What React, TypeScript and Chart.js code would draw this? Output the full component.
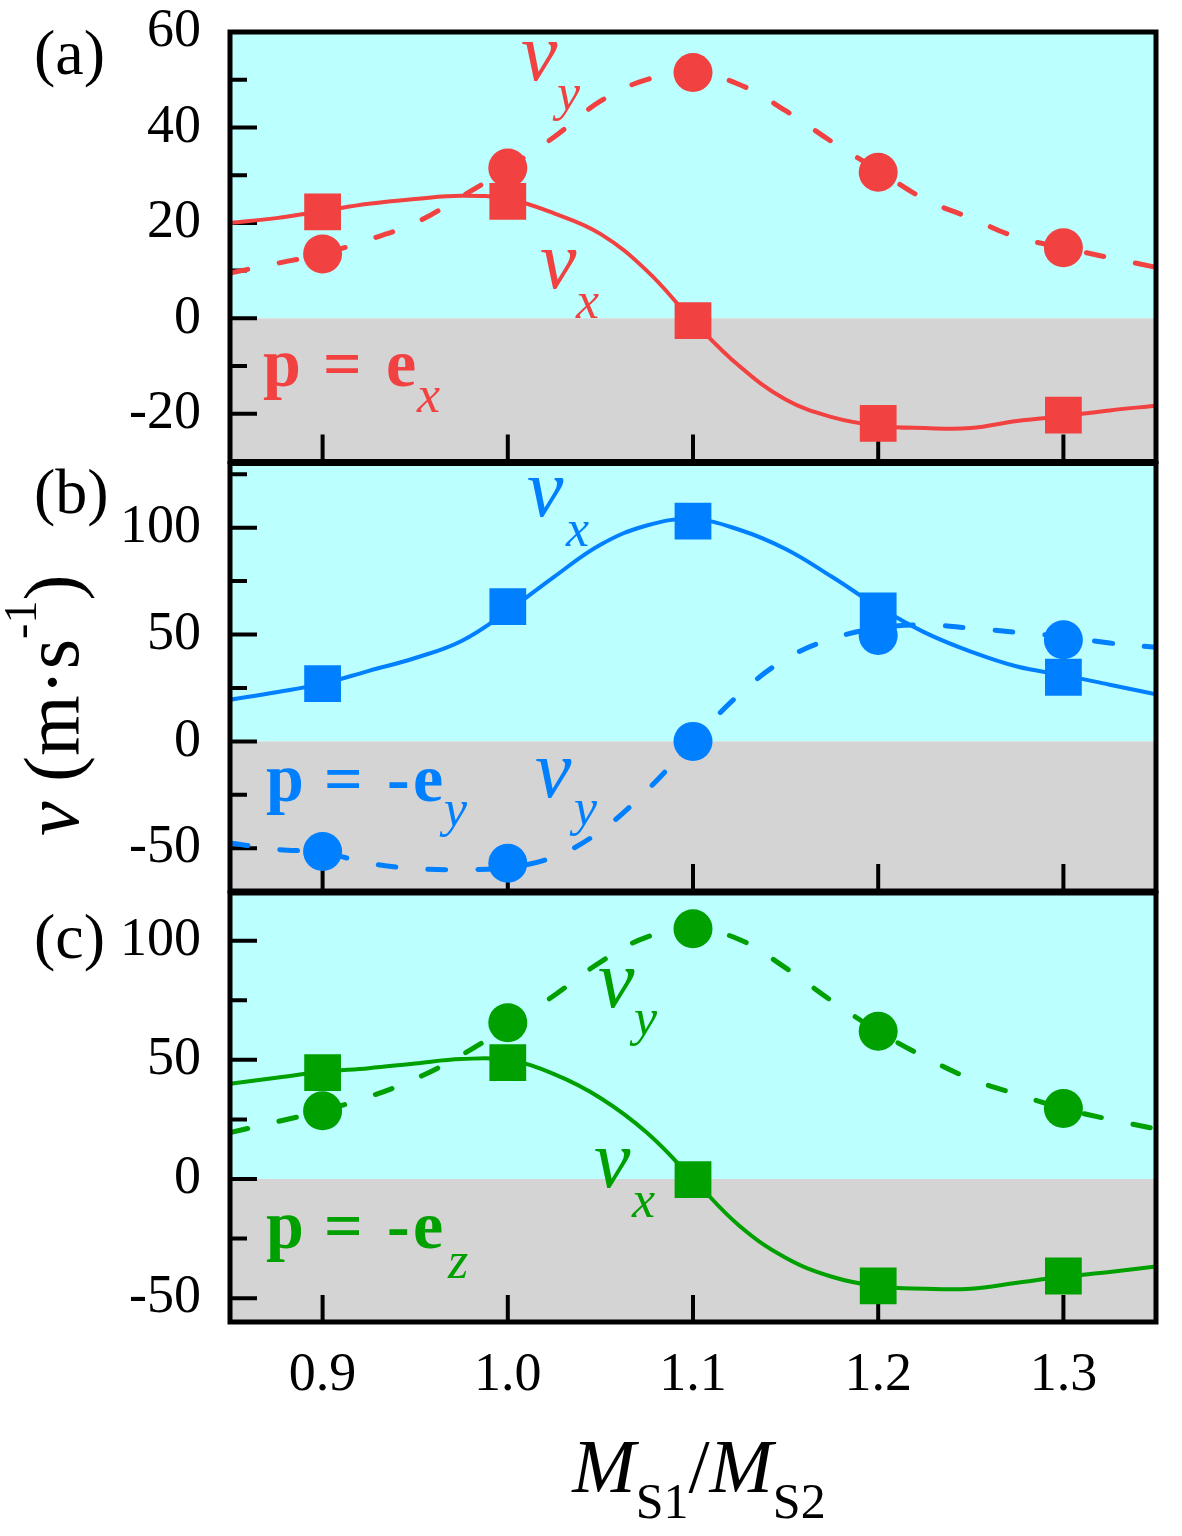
import React, { useEffect, useRef } from "react";
import Chart from "chart.js/auto";

const W = 1182;
const H = 1536;
const SERIF = "'Liberation Serif', 'Times New Roman', serif";
const CYAN = "#BBFFFF";
const GRAY = "#D4D4D4";
const RED = "#F24141";
const BLUE = "#0080FF";
const GREEN = "#00A000";

// shared x positions
const curveX = [
  0.85, 0.875, 0.9, 0.925, 0.95, 0.975, 1.0, 1.025, 1.05, 1.075, 1.1,
  1.125, 1.15, 1.175, 1.2, 1.225, 1.25, 1.275, 1.3, 1.325, 1.35,
];
const markerX = [0.9, 1.0, 1.1, 1.2, 1.3];
const xTicks = [0.9, 1.0, 1.1, 1.2, 1.3];
const xTickLabels = ["0.9", "1.0", "1.1", "1.2", "1.3"];

// (a) p = e_x
const aVxPoints = [22.3, 24.5, -0.5, -22, -20.3];
const aVyPoints = [13.5, 31.5, 51.5, 30.6, 14.8];
const aVxCurve = [
  20, 21, 22.5, 24, 25, 25.7, 25, 22, 17.7, 10, -0.5, -10, -17, -20.7,
  -22.5, -23, -23, -21.5, -20.5, -19.3, -18.3,
];
const aVyCurve = [
  9.5, 11.5, 13.5, 16.5, 20, 25.5, 31.5, 38, 45.5, 50, 51.5, 49, 43.5, 37,
  31, 25, 21, 17, 14.8, 12.7, 10.7,
];
const aYTicks = [-20, 0, 20, 40, 60];
const aYMinor = [-10, 10, 30, 50];

// (b) p = -e_y
const bVxPoints = [27, 63, 103, 61, 30];
const bVyPoints = [-51.5, -57, 0, 49.5, 47.5];
const bVxCurve = [
  19.5, 23, 27, 33, 39, 47, 61, 77, 92, 101, 104, 99, 90, 77, 63, 51, 42,
  35, 31, 26.5, 22,
];
const bVyCurve = [
  -47.5, -50.5, -52, -57, -59.5, -60, -59, -54, -42, -23, 0, 22, 38.5, 48,
  53, 54.5, 53, 51, 49, 46, 44,
];
const bYTicks = [-50, 0, 50, 100];
const bYMinor = [-25, 25, 75, 125];

// (c) p = -e_z
const cVxPoints = [44.6, 48.8, -0.3, -44.8, -40.7];
const cVyPoints = [28.6, 65.6, 105, 62, 29.6];
const cVxCurve = [
  40, 42.5, 45, 46.5, 48.5, 50.3, 50, 44, 34, 19.5, 0, -19.6, -33, -41,
  -45, -46, -46, -43.5, -41, -39, -36.7,
];
const cVyCurve = [
  19.5, 24, 28.6, 34.5, 42, 52, 64, 77, 91, 101.5, 105, 100.5, 88.6, 74.7,
  62, 51.2, 42, 35.5, 29.6, 25, 21,
];
const cYTicks = [-50, 0, 50, 100];
const cYMinor = [-25, 25, 75];

const F_V = `italic 82px ${SERIF}`;
const F_SUB = `italic 52px ${SERIF}`;
const F_P = `bold 68px ${SERIF}`;
const X_AXIS_H = 110;

const panels = [
  {
    top: 32, bottom: 461.5, min: -30, max: 60,
    majors: aYTicks, minors: aYMinor, color: RED,
    vx: aVxCurve, vy: aVyCurve, vxPts: aVxPoints, vyPts: aVyPoints,
    letter: "(a)", letterY: 74, last: false,
    notes: [
      ["v", 521, 80, F_V], ["y", 557, 110, F_SUB],
      ["v", 540, 288, F_V], ["x", 576, 318, F_SUB],
      ["p", 263, 386, F_P], ["=", 323, 386, F_P], ["e", 386, 386, F_P],
      ["x", 417, 412, F_SUB],
    ],
  },
  {
    top: 463.5, bottom: 891, min: -70, max: 130,
    majors: bYTicks, minors: bYMinor, color: BLUE,
    vx: bVxCurve, vy: bVyCurve, vxPts: bVxPoints, vyPts: bVyPoints,
    letter: "(b)", letterY: 513, last: false,
    notes: [
      ["v", 527, 516, F_V], ["x", 566, 546, F_SUB],
      ["v", 535, 797, F_V], ["y", 574, 825, F_SUB],
      ["p", 266, 801, F_P], ["=", 324, 801, F_P], ["-", 387, 801, F_P],
      ["e", 413, 801, F_P], ["y", 444, 826, F_SUB],
    ],
  },
  {
    top: 893, bottom: 1322, min: -60, max: 120,
    majors: cYTicks, minors: cYMinor, color: GREEN,
    vx: cVxCurve, vy: cVyCurve, vxPts: cVxPoints, vyPts: cVyPoints,
    letter: "(c)", letterY: 958, last: true,
    notes: [
      ["v", 598, 1007, F_V], ["y", 634, 1035, F_SUB],
      ["v", 594, 1187, F_V], ["x", 632, 1217, F_SUB],
      ["p", 266, 1248, F_P], ["=", 324, 1248, F_P], ["-", 387, 1248, F_P],
      ["e", 413, 1248, F_P], ["z", 448, 1278, F_SUB],
    ],
  },
];

function drawParts(ctx: CanvasRenderingContext2D, parts: any[]) {
  let cx = 0;
  for (const [t, f, dy] of parts) {
    ctx.font = f;
    ctx.fillText(t, cx, dy);
    cx += ctx.measureText(t).width;
  }
}

function drawTitles(ctx: CanvasRenderingContext2D, area: any) {
  ctx.save();
  ctx.fillStyle = "#000";
  ctx.textBaseline = "alphabetic";
  ctx.textAlign = "left";

  // y title, rotated
  ctx.save();
  ctx.translate(78, 836);
  ctx.rotate(-Math.PI / 2);
  drawParts(ctx, [
    ["v", `italic 78px ${SERIF}`, 0],
    [" (m\u00B7s", `78px ${SERIF}`, 0],
    ["-1", `46px ${SERIF}`, -42],
    [")", `78px ${SERIF}`, 0],
  ]);
  ctx.restore();

  // x title
  const parts = [
    ["M", `italic 76px ${SERIF}`, 0],
    ["S1", `50px ${SERIF}`, 26],
    ["/", `76px ${SERIF}`, 0],
    ["M", `italic 76px ${SERIF}`, 0],
    ["S2", `50px ${SERIF}`, 26],
  ];
  let total = 0;
  for (const [t, f] of parts) {
    ctx.font = f as string;
    total += ctx.measureText(t as string).width;
  }
  ctx.save();
  ctx.translate((area.left + area.right) / 2 - total / 2 + 6, 1492);
  drawParts(ctx, parts);
  ctx.restore();
  ctx.restore();
}

function PanelChart({ spec }: { spec: any }) {
  const ref = useRef<HTMLCanvasElement>(null);

  useEffect(() => {
    if (!ref.current) return;
    const tickFont = { family: SERIF, size: 54 };

    const decor = {
      id: "decor",
      beforeDatasetsDraw(chart: any) {
        const { ctx, chartArea: a, scales } = chart;
        const y = scales.y;
        const x = scales.x;
        const zero = y.getPixelForValue(0);
        ctx.save();
        ctx.fillStyle = CYAN;
        ctx.fillRect(a.left, a.top, a.width, zero - a.top);
        ctx.fillStyle = GRAY;
        ctx.fillRect(a.left, zero, a.width, a.bottom - zero);
        ctx.strokeStyle = "#000";
        ctx.lineWidth = 4;
        ctx.beginPath();
        spec.majors.forEach((v: number) => {
          const py = y.getPixelForValue(v);
          ctx.moveTo(a.left, py);
          ctx.lineTo(a.left + 27, py);
        });
        spec.minors.forEach((v: number) => {
          const py = y.getPixelForValue(v);
          ctx.moveTo(a.left, py);
          ctx.lineTo(a.left + 17, py);
        });
        xTicks.forEach((v) => {
          const px = x.getPixelForValue(v);
          ctx.moveTo(px, a.bottom);
          ctx.lineTo(px, a.bottom - 27);
        });
        ctx.stroke();
        ctx.restore();
      },
      afterDatasetsDraw(chart: any) {
        const { ctx, chartArea: a } = chart;
        ctx.save();
        ctx.strokeStyle = "#000";
        ctx.lineWidth = 5;
        ctx.strokeRect(a.left, a.top, a.width, a.height);

        ctx.textAlign = "left";
        ctx.textBaseline = "alphabetic";
        ctx.fillStyle = spec.color;
        spec.notes.forEach(([t, px, py, f]: any) => {
          ctx.font = f;
          ctx.fillText(t, px, py);
        });

        ctx.fillStyle = "#000";
        ctx.font = `64px ${SERIF}`;
        ctx.fillText(spec.letter, 34, spec.letterY);
        ctx.restore();

        if (spec.last) drawTitles(ctx, a);
      },
    };

    const chart = new Chart(ref.current, {
      type: "line",
      data: {
        datasets: [
          {
            data: curveX.map((x, i) => ({ x, y: spec.vy[i] })),
            borderColor: spec.color,
            borderWidth: 5,
            borderDash: [18, 32],
            borderCapStyle: "round",
            pointRadius: 0,
            tension: 0.4,
            fill: false,
          },
          {
            data: curveX.map((x, i) => ({ x, y: spec.vx[i] })),
            borderColor: spec.color,
            borderWidth: 4,
            pointRadius: 0,
            tension: 0.4,
            fill: false,
          },
          {
            data: markerX.map((x, i) => ({ x, y: spec.vyPts[i] })),
            showLine: false,
            pointStyle: "circle",
            pointRadius: 19.5,
            pointBackgroundColor: spec.color,
            pointBorderWidth: 0,
          },
          {
            data: markerX.map((x, i) => ({ x, y: spec.vxPts[i] })),
            showLine: false,
            pointStyle: "rect",
            pointRadius: 26,
            pointBackgroundColor: spec.color,
            pointBorderWidth: 0,
          },
        ],
      },
      options: {
        animation: false,
        responsive: false,
        events: [],
        layout: {
          padding: {
            left: 0,
            right: W - 1160,
            top: spec.top,
            bottom: spec.last ? H - spec.bottom - X_AXIS_H : H - spec.bottom,
          },
        },
        plugins: {
          legend: { display: false },
          tooltip: { enabled: false },
        },
        scales: {
          x: {
            type: "linear",
            min: 0.85,
            max: 1.35,
            display: spec.last,
            grid: { display: false, drawTicks: false },
            border: { display: false },
            afterBuildTicks: (s: any) => {
              s.ticks = xTicks.map((v) => ({ value: v }));
            },
            afterFit: (s: any) => {
              s.height = spec.last ? X_AXIS_H : 0;
              s.paddingLeft = 0;
              s.paddingRight = 0;
            },
            ticks: {
              padding: 21,
              color: "#000",
              font: tickFont,
              autoSkip: false,
              maxRotation: 0,
              callback: (_v: any, i: number) => xTickLabels[i],
            },
          },
          y: {
            type: "linear",
            min: spec.min,
            max: spec.max,
            grid: { display: false, drawTicks: false },
            border: { display: false },
            afterBuildTicks: (s: any) => {
              s.ticks = spec.majors.map((v: number) => ({ value: v }));
            },
            afterFit: (s: any) => {
              s.width = 230;
              s.paddingTop = 0;
              s.paddingBottom = 0;
            },
            ticks: {
              padding: 29,
              color: "#000",
              font: tickFont,
              autoSkip: false,
              callback: (v: any) => String(v),
            },
          },
        },
      },
      plugins: [decor],
    } as any);

    return () => {
      chart.destroy();
    };
  }, [spec]);

  return (
    <canvas
      ref={ref}
      width={W}
      height={H}
      style={{ position: "absolute", left: 0, top: 0 }}
    />
  );
}

export default function App() {
  return (
    <div
      style={{
        position: "absolute",
        left: 0,
        top: 0,
        width: W,
        height: H,
        background: "#fff",
        overflow: "hidden",
      }}
    >
      {panels.map((p, i) => (
        <PanelChart key={i} spec={p} />
      ))}
    </div>
  );
}
